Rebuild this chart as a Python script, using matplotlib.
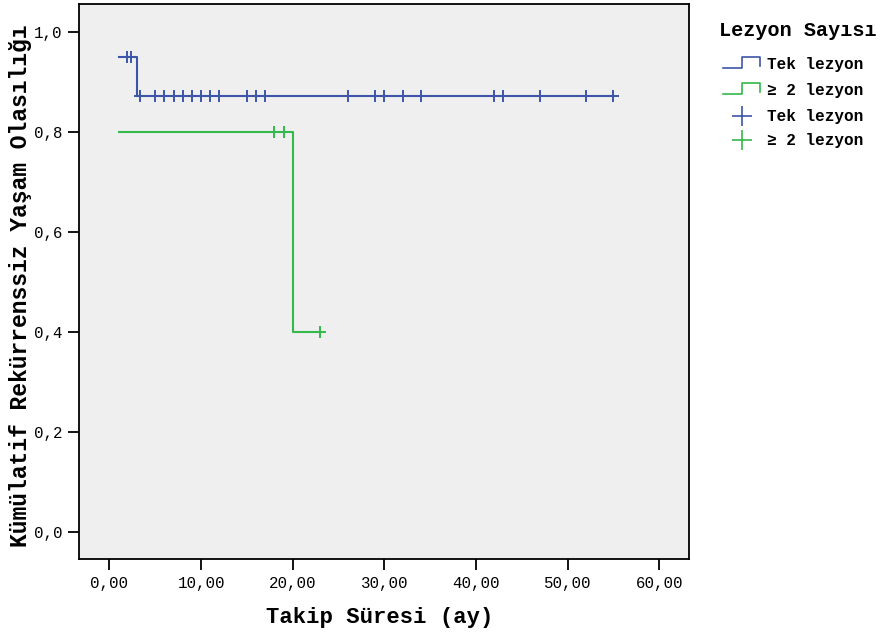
import matplotlib
matplotlib.use("Agg")
import matplotlib.pyplot as plt
from matplotlib.lines import Line2D
from matplotlib.ticker import FuncFormatter

# Kaplan-Meier step curves (time in months, survival)
tek_time = [1.0, 3.0, 55.0]
tek_surv = [0.95, 0.872, 0.872]
iki_time = [1.0, 20.0, 23.0]
iki_surv = [0.80, 0.40, 0.40]

# censored observations
tek_cens_t = [1.9, 2.3, 3.3, 5, 6, 7, 8, 9, 10, 11, 12, 15, 16, 17,
              26, 29, 30, 32, 34, 42, 43, 47, 52, 55]
tek_cens_s = [0.95, 0.95] + [0.872] * 22
iki_cens_t = [18, 19, 23]
iki_cens_s = [0.80, 0.80, 0.40]

x_ticks = [0, 10, 20, 30, 40, 50, 60]
y_ticks = [0.0, 0.2, 0.4, 0.6, 0.8, 1.0]
group_labels = ["Tek lezyon", "\u2265 2 lezyon"]

BLUE = "#3d55a8"
GREEN = "#34b94a"
MONO = ["Liberation Mono", "DejaVu Sans Mono"]

W, H = 884, 635


def fx(px):
    return px / W


def fy(py):
    return 1 - py / H


fig = plt.figure(figsize=(W / 100, H / 100), dpi=100)
left, right, top, bottom = 78.7, 689, 4, 559.3
ax = fig.add_axes([fx(left), fy(bottom), (right - left) / W, (bottom - top) / H])
ax.set_facecolor("#efefef")

ax.step(tek_time, tek_surv, where="post", color=BLUE, lw=1.5)
ax.step(iki_time, iki_surv, where="post", color=GREEN, lw=1.5)
ax.plot(tek_cens_t, tek_cens_s, "+", color=BLUE, ms=8, mew=1.4)
ax.plot(iki_cens_t, iki_cens_s, "+", color=GREEN, ms=8, mew=1.4)

ax.set_xlim(-3.36, 63.26)
ax.set_ylim(-0.055, 1.055)
ax.set_xticks(x_ticks)
ax.set_yticks(y_ticks)
ax.xaxis.set_major_formatter(FuncFormatter(lambda v, p: ("%.2f" % v).replace(".", ",")))
ax.yaxis.set_major_formatter(FuncFormatter(lambda v, p: ("%.1f" % v).replace(".", ",")))
ax.tick_params(direction="out", length=8, width=1.3, labelsize=11.3, pad=4)
for lab in ax.get_xticklabels() + ax.get_yticklabels():
    lab.set_family(MONO)
for sp in ax.spines.values():
    sp.set_linewidth(1.3)
    sp.set_color("black")

fig.text(fx(380), fy(617), "Takip S\u00fcresi (ay)", ha="center", va="center",
         fontsize=16, fontweight="bold", family=MONO)
fig.text(fx(21), fy(286), "K\u00fcm\u00fclatif Rek\u00fcrrenssiz Ya\u015fam Olas\u0131l\u0131\u011f\u0131",
         ha="center", va="center", rotation=90, fontsize=16.6, fontweight="bold", family=MONO)

# legend drawn by hand to match the SPSS layout
fig.text(fx(719), fy(30), "Lezyon Say\u0131s\u0131", ha="left", va="center",
         fontsize=14.5, fontweight="bold", family=MONO)
rows = [65, 91, 116, 140]
for i, (col, lab) in enumerate(zip([BLUE, GREEN], group_labels)):
    yc = rows[i]
    xs = [723, 742, 742, 760, 760]
    ys = [yc + 3, yc + 3, yc - 8, yc - 8, yc + 1]
    fig.add_artist(Line2D([fx(v) for v in xs], [fy(v) for v in ys],
                          transform=fig.transFigure, color=col, lw=1.2))
    fig.text(fx(767), fy(yc), lab, ha="left", va="center",
             fontsize=11.5, fontweight="bold", family=MONO)
for i, (col, lab) in enumerate(zip([BLUE, GREEN], group_labels)):
    yc = rows[i + 2]
    fig.add_artist(Line2D([fx(742)], [fy(yc)], transform=fig.transFigure,
                          marker="+", ms=14, mew=1.2, color=col, ls="none"))
    fig.text(fx(767), fy(yc), lab, ha="left", va="center",
             fontsize=11.5, fontweight="bold", family=MONO)

fig.savefig("out.png", dpi=100)
